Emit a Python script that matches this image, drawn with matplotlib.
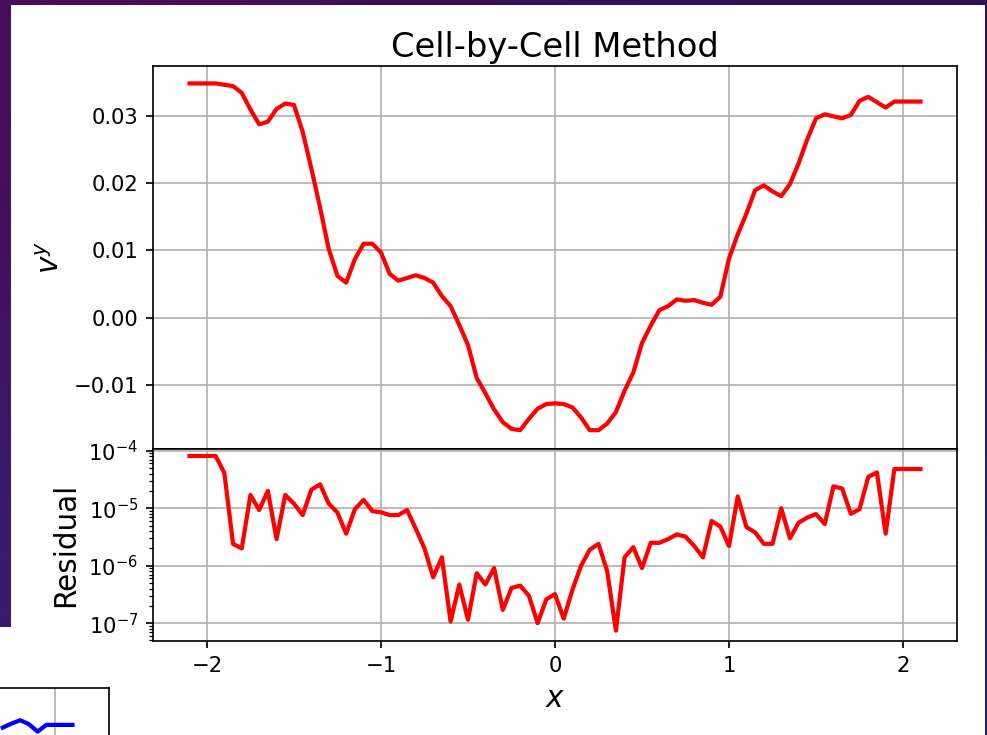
import numpy as np
import matplotlib
matplotlib.use("Agg")
import matplotlib.pyplot as plt
from matplotlib.patches import Rectangle

# Cell centres
x = np.round(np.arange(85) * 0.05 - 2.1, 2)

# Transverse velocity v^y at each cell
vy = [0.0349, 0.0349, 0.0349, 0.0349, 0.0347, 0.0345, 0.0335, 0.0310, 0.0288, 0.0292,
      0.0311, 0.0319, 0.0317, 0.0277, 0.0222, 0.0164, 0.0102, 0.0062, 0.0052, 0.0087,
      0.0110, 0.0110, 0.0097, 0.0065, 0.0055, 0.0059, 0.0063, 0.0059, 0.0052, 0.0032,
      0.0017, -0.0011, -0.0041, -0.0090, -0.0113, -0.0137, -0.0156, -0.0166, -0.0168, -0.0151,
      -0.0136, -0.0129, -0.0128, -0.0129, -0.0134, -0.0149, -0.0168, -0.0168, -0.0158, -0.0141,
      -0.0109, -0.0082, -0.0038, -0.0012, 0.0011, 0.0017, 0.0027, 0.0025, 0.0026, 0.0022,
      0.0019, 0.0031, 0.0088, 0.0124, 0.0155, 0.0190, 0.0197, 0.0188, 0.0181, 0.0199,
      0.0230, 0.0266, 0.0297, 0.0303, 0.0300, 0.0297, 0.0302, 0.0323, 0.0329, 0.0321,
      0.0313, 0.0322, 0.0322, 0.0322, 0.0322]

# Residual of the cell-by-cell solve
residual = [8.1e-5, 8.1e-5, 8.1e-5, 8.1e-5, 4.1e-5, 2.4e-6, 2.0e-6, 1.7e-5, 9.3e-6, 2.0e-5,
            2.9e-6, 1.7e-5, 1.2e-5, 7.6e-6, 2.1e-5, 2.6e-5, 1.2e-5, 8.4e-6, 3.6e-6, 9.6e-6,
            1.4e-5, 8.9e-6, 8.5e-6, 7.6e-6, 7.6e-6, 9.3e-6, 4.4e-6, 2.0e-6, 6.3e-7, 1.4e-6,
            1.07e-7, 4.7e-7, 1.15e-7, 7.4e-7, 4.7e-7, 9.1e-7, 1.7e-7, 4.1e-7, 4.5e-7, 3.0e-7,
            1.0e-7, 2.6e-7, 3.2e-7, 1.2e-7, 3.8e-7, 1.0e-6, 1.9e-6, 2.4e-6, 8.0e-7, 7.4e-8,
            1.4e-6, 2.1e-6, 9.1e-7, 2.5e-6, 2.5e-6, 2.9e-6, 3.5e-6, 3.2e-6, 2.2e-6, 1.4e-6,
            6.0e-6, 4.8e-6, 2.2e-6, 1.6e-5, 4.7e-6, 3.8e-6, 2.4e-6, 2.4e-6, 1.0e-5, 3.0e-6,
            5.6e-6, 6.9e-6, 7.9e-6, 5.3e-6, 2.4e-5, 2.2e-5, 8.0e-6, 9.6e-6, 3.5e-5, 4.2e-5,
            3.6e-6, 4.8e-5, 4.8e-5, 4.8e-5, 4.8e-5]

# Right-hand end of the companion (blue) run
x_blue = [1.7, 1.75, 1.8, 1.85, 1.9, 1.95, 2.0, 2.05, 2.1]
vy_blue = [0.0316, 0.0322, 0.0327, 0.0321, 0.0310, 0.0320, 0.0320, 0.0320, 0.0320]

W, H = 987, 735
DPI = 152
fig = plt.figure(figsize=(W / DPI, H / DPI), dpi=DPI)


def frac(left, top, right, bottom):
    return [left / W, 1 - bottom / H, (right - left) / W, (bottom - top) / H]


# Slide backdrop
bg = fig.add_axes([0, 0, 1, 1], zorder=-5)
corners = np.array([[[70, 14, 92], [50, 16, 84]],
                    [[56, 28, 112], [30, 32, 112]]], dtype=float) / 255
bg.imshow(corners, extent=[0, 1, 0, 1], aspect="auto", interpolation="bilinear",
          transform=bg.transAxes)
bg.add_patch(Rectangle((11 / W, 0), (985 - 11) / W, 1 - 5 / H,
                       transform=bg.transAxes, color="white", lw=0))
bg.add_patch(Rectangle((0, 0), 137 / W, 1 - 627 / H,
                       transform=bg.transAxes, color="white", lw=0))
bg.set_xlim(0, 1)
bg.set_ylim(0, 1)
bg.axis("off")

ax_v = fig.add_axes(frac(153, 66, 957, 449))
ax_r = fig.add_axes(frac(153, 449, 957, 641), sharex=ax_v)

ax_v.plot(x, vy, color="red", lw=2.0)
ax_v.grid(True)
ax_v.set_ylabel("$v^y$", fontsize=14)
ax_v.set_title("Cell-by-Cell Method", fontsize=16, pad=4.5)
ax_v.set_ylim(-0.0196, 0.0375)
ax_v.tick_params(labelbottom=False)

ax_r.semilogy(x, residual, color="red", lw=2.0)
ax_r.grid(True)
ax_r.set_ylabel("Residual", fontsize=14)
ax_r.set_xlabel("$x$", fontsize=14)
ax_r.set_ylim(10 ** -7.31, 10 ** -3.97)
ax_r.set_xlim(-2.31, 2.31)
ax_r.set_xticks([-2, -1, 0, 1, 2])

# Companion figure peeking in at the lower left
ax_b = fig.add_axes(frac(-695, 688, 109, 1071))
ax_b.plot(x_blue, vy_blue, color="blue", lw=2.0)
ax_b.set_xlim(-2.31, 2.31)
ax_b.set_ylim(-0.0196, 0.0375)
ax_b.set_xticks([-2, -1, 0, 1, 2])
ax_b.set_yticks([-0.01, 0.0, 0.01, 0.02, 0.03])
ax_b.tick_params(labelleft=False, labelbottom=False)
ax_b.grid(True)

fig.savefig("out.png", dpi=DPI)
